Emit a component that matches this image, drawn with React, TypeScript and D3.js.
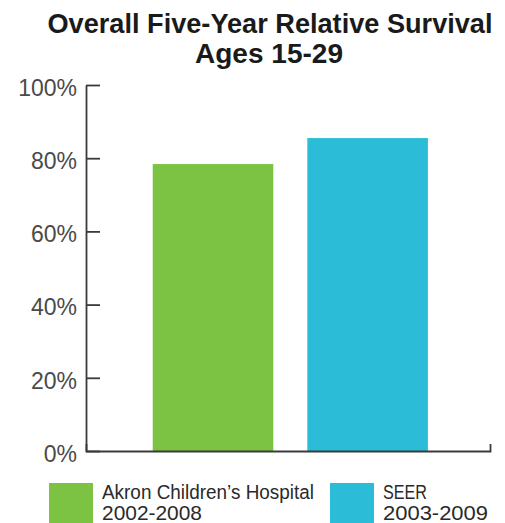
import React, { useRef, useEffect } from 'react';
import * as d3 from 'd3';

// Values
const categories = ['Akron Children\u2019s Hospital', 'SEER'];
const periods = ['2002-2008', '2003-2009'];
const survival = [78.4, 85.5];
const colors = ['#7cc243', '#2bbdd7'];
const yTicks = [0, 20, 40, 60, 80, 100];
const titleLines = ['Overall Five-Year Relative Survival', 'Ages 15-29'];

const W = 505;
const H = 523;

const App = () => {
  const ref = useRef<SVGSVGElement>(null);

  useEffect(() => {
    const svg = d3.select(ref.current);
    svg.selectAll('*').remove();

    const left = 86, right = 490, top = 85, bottom = 451;
    const axisColor = '#3a3a3a';

    const x = d3.scaleBand<string>()
      .domain(categories)
      .range([left, right])
      .paddingInner(0.22)
      .paddingOuter(0.4166)
      .align(0.518);
    const y = d3.scaleLinear().domain([0, 100]).range([bottom, top]);

    // Title
    const title = svg.append('g')
      .attr('font-family', '"Liberation Sans", Arial, sans-serif')
      .attr('font-weight', 'bold')
      .attr('fill', '#1a1a1a');
    title.append('text')
      .attr('x', 270).attr('y', 33)
      .attr('text-anchor', 'middle')
      .attr('font-size', 27)
      .attr('textLength', 445)
      .attr('lengthAdjust', 'spacingAndGlyphs')
      .text(titleLines[0]);
    title.append('text')
      .attr('x', 269).attr('y', 63)
      .attr('text-anchor', 'middle')
      .attr('font-size', 27)
      .attr('textLength', 148)
      .attr('lengthAdjust', 'spacingAndGlyphs')
      .text(titleLines[1]);

    // Bars
    svg.append('g')
      .selectAll('rect')
      .data(categories)
      .enter()
      .append('rect')
      .attr('x', d => x(d)!)
      .attr('width', x.bandwidth())
      .attr('y', (d, i) => y(survival[i]))
      .attr('height', (d, i) => y(0) - y(survival[i]))
      .attr('fill', (d, i) => colors[i]);

    // Y axis, ticks pointing inward
    const yAxis = d3.axisLeft(y)
      .tickValues(yTicks)
      .tickFormat(d => `${d}%`)
      .tickSizeInner(-14)
      .tickSizeOuter(0)
      .tickPadding(9);
    const gy = svg.append('g')
      .attr('transform', `translate(${left},0)`)
      .call(yAxis);
    gy.select('.domain').attr('stroke', axisColor).attr('stroke-width', 1.8);
    gy.selectAll('.tick line').attr('stroke', axisColor).attr('stroke-width', 1.8);
    gy.selectAll('.tick text')
      .attr('font-family', '"Liberation Sans", Arial, sans-serif')
      .attr('font-size', 23)
      .attr('fill', '#4a4a4a')
      .attr('dy', '0.45em');

    // Bottom baseline with a small end tick
    const gx = svg.append('g')
      .attr('transform', `translate(0,${bottom})`)
      .call(d3.axisBottom(x).tickValues([]).tickSizeOuter(-7));
    gx.select('.domain').attr('stroke', axisColor).attr('stroke-width', 1.8).attr('fill', 'none');

    // Legend
    const legendX = [49, 330];
    const legend = svg.append('g')
      .attr('font-family', '"Liberation Sans", Arial, sans-serif')
      .attr('fill', '#2a2a2a');
    categories.forEach((c, i) => {
      legend.append('rect')
        .attr('x', legendX[i]).attr('y', 483)
        .attr('width', 44).attr('height', 44)
        .attr('fill', colors[i]);
      legend.append('text')
        .attr('x', legendX[i] + 53).attr('y', 499)
        .attr('font-size', 20)
        .attr('textLength', i === 0 ? 212 : 44)
        .attr('lengthAdjust', 'spacingAndGlyphs')
        .text(c);
      legend.append('text')
        .attr('x', legendX[i] + 53).attr('y', 520)
        .attr('font-size', 20)
        .attr('textLength', i === 0 ? 100 : 105)
        .attr('lengthAdjust', 'spacingAndGlyphs')
        .text(periods[i]);
    });
  }, []);

  return (
    <svg
      ref={ref}
      width={W}
      height={H}
      style={{ position: 'absolute', left: 0, top: 0, background: '#fff' }}
    />
  );
};

export default App;
